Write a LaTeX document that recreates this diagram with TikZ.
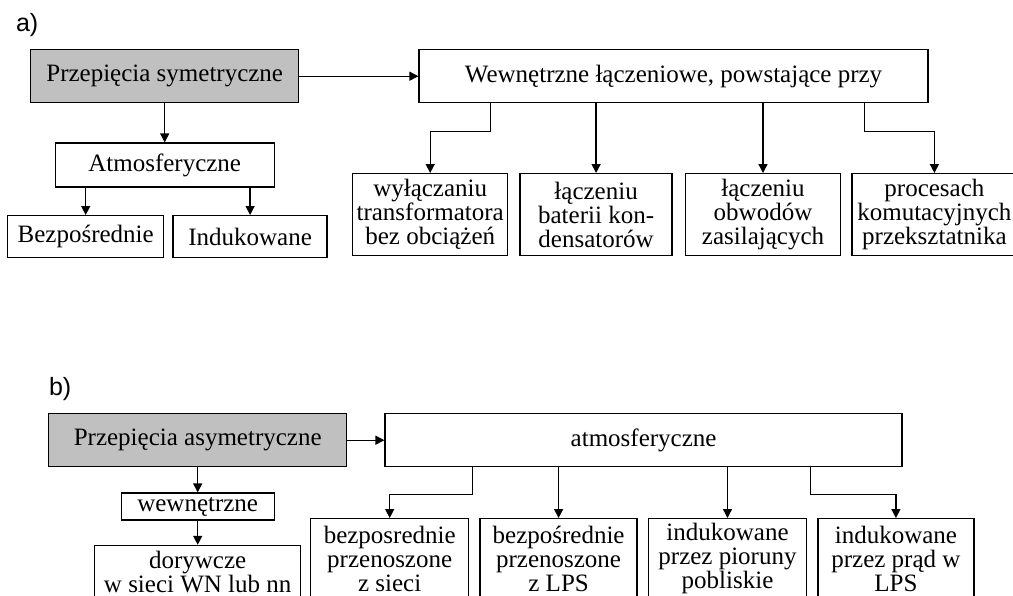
\documentclass[tikz,border=0pt]{standalone}
\usepackage{fontspec}
\setmainfont{Liberation Serif}
\newfontfamily\labelfont{Liberation Sans}
\usepackage{xcolor}
\definecolor{boxgray}{HTML}{C0C0C0}
\usetikzlibrary{
  positioning,
  arrows.meta
}

\begin{document}
\begin{tikzpicture}[
  x=0.5pt, y=-0.5pt,
  >={Triangle[length=4.5pt,width=4.5pt]},
  box/.style={
    rectangle, draw, line width=0.7pt, inner sep=0pt, align=center,
    font=\fontsize{12.5}{12}\selectfont
  },
  mainbox/.style={box, fill=boxgray, minimum height=26.5pt},
  leafbox/.style={box, minimum height=41pt, anchor=north west},
  conn/.style={->, line width=0.7pt},
  tag/.style={anchor=west, font=\labelfont\fontsize{12.5}{12.5}\selectfont}
]
\useasboundingbox (0,0) rectangle (1013,595);
\clip (0,0) rectangle (1013,595);

\node[tag] (taga) at (9,25) {a)};

\node[mainbox, minimum width=134pt, anchor=north west] (sym) at (30,49) {Przepięcia symetryczne};
\node[box, minimum width=254.5pt, minimum height=26.5pt, right=59.5pt of sym] (wew) {Wewnętrzne łączeniowe, powstające przy};
\node[box, minimum width=109.5pt, minimum height=22pt, below=19.5pt of sym] (atm) {Atmosferyczne};
\node[box, minimum width=78pt, minimum height=21pt, anchor=north west] (bez) at (7,215) {Bezpośrednie};
\node[box, minimum width=77pt, minimum height=21pt, anchor=north west] (ind) at ([xshift=4pt]bez.north east) {Indukowane};

\node[leafbox, minimum width=77.5pt] (wyl) at (352,173) {wyłączaniu\\transformatora\\bez obciążeń};
\node[leafbox, minimum width=76pt] (bat) at ([xshift=5.5pt]wyl.north east) {łączeniu\\baterii kon-\\densatorów};
\node[leafbox, minimum width=77.5pt] (obw) at ([xshift=6pt]bat.north east) {łączeniu\\obwodów\\zasilających};
\node[leafbox, minimum width=82.5pt] (kom) at ([xshift=5pt]obw.north east) {procesach\\komutacyjnych\\przeksztatnika};

\draw[conn] (sym) -- (wew);
\draw[conn] (sym) -- (atm);
\draw[conn] (bez.north |- atm.south) -- (bez.north);
\draw[conn] (ind.north |- atm.south) -- (ind.north);
\draw[conn] ([xshift=36pt]wew.south west) -- ++(0,-14pt) -| (wyl.north);
\draw[conn] (bat.north |- wew.south) -- (bat.north);
\draw[conn] (obw.north |- wew.south) -- (obw.north);
\draw[conn] ([xshift=223pt]wew.south west) -- ++(0,-14pt) -| (kom.north);

\node[tag] (tagb) at (42,389) {b)};

\node[mainbox, minimum width=149pt, anchor=north west] (asym) at (48,413) {Przepięcia asymetryczne};
\node[box, minimum width=258.5pt, minimum height=26.5pt, right=18.5pt of asym] (atm2) {atmosferyczne};
\node[box, minimum width=76.5pt, minimum height=13.5pt, below=12.5pt of asym] (wewn) {wewnętrzne};
\node[box, minimum width=103pt, minimum height=27pt, below=12pt of wewn] (dor) {dorywcze\\w sieci WN lub nn};

\node[leafbox, minimum width=79pt, minimum height=40pt] (siec) at (310,518) {bezposrednie\\przenoszone\\z sieci};
\node[leafbox, minimum width=78.5pt, minimum height=40pt] (lps) at ([xshift=5pt]siec.north east) {bezpośrednie\\przenoszone\\z LPS};
\node[leafbox, minimum width=79pt, minimum height=40pt] (pio) at ([xshift=5pt]lps.north east) {indukowane\\przez pioruny\\pobliskie};
\node[leafbox, minimum width=78pt, minimum height=40pt] (prad) at ([xshift=5pt]pio.north east) {indukowane\\przez prąd w\\LPS};

\draw[conn] (asym) -- (atm2);
\draw[conn] (asym) -- (wewn);
\draw[conn] (wewn) -- (dor);
\draw[conn] ([xshift=44pt]atm2.south west) -- ++(0,-13.5pt) -| (siec.north);
\draw[conn] (lps.north |- atm2.south) -- (lps.north);
\draw[conn] (pio.north |- atm2.south) -- (pio.north);
\draw[conn] ([xshift=213pt]atm2.south west) -- ++(0,-13.5pt) -| (prad.north);

\end{tikzpicture}
\end{document}
